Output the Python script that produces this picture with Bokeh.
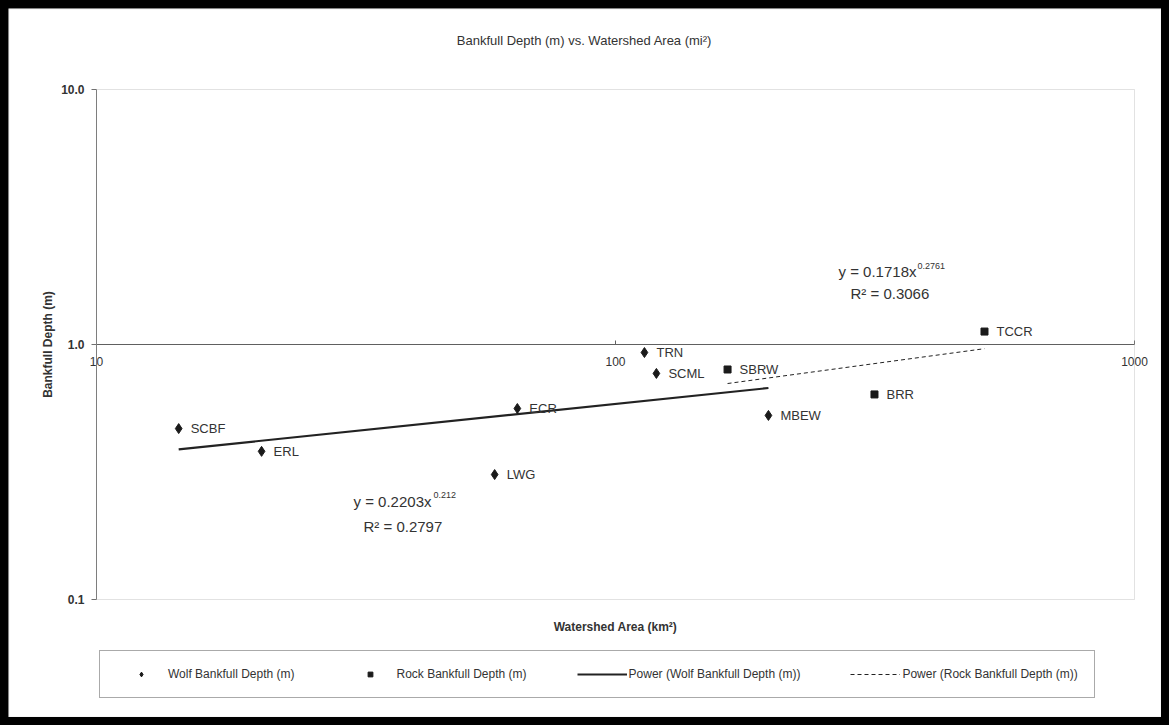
from bokeh.plotting import figure
from bokeh.models import (LogAxis, FixedTicker, PrintfTickFormatter, Legend,
                          LegendItem, Label, ColumnDataSource, BoxAnnotation)
from bokeh.core.properties import value
from bokeh.embed import file_html
from bokeh.resources import INLINE

# ---------------- data ----------------
wolf_sites = ["SCBF", "ERL", "LWG", "ECR", "TRN", "SCML", "MBEW"]
wolf_area = [14.4, 20.8, 58.5, 64.7, 113.7, 119.9, 197.1]
wolf_depth = [0.468, 0.381, 0.309, 0.561, 0.930, 0.770, 0.527]

rock_sites = ["SBRW", "BRR", "TCCR"]
rock_area = [164.4, 315.5, 514.0]
rock_depth = [0.798, 0.637, 1.124]

wolf_trend_area = [14.4, 197.1]
wolf_trend_depth = [0.388, 0.675]
rock_trend_area = [164.4, 514.0]
rock_trend_depth = [0.703, 0.963]

x_ticks = [10, 100, 1000]
y_ticks = [0.1, 1, 10]
x_bounds = (10, 1000)
y_bounds = (0.1, 10)

title_text = "Bankfull Depth (m) vs. Watershed Area (mi²)"
x_title = "Watershed Area (km²)"
y_title = "Bankfull Depth (m)"
legend_labels = ["Wolf Bankfull Depth (m)", "Rock Bankfull Depth (m)",
                 "Power (Wolf Bankfull Depth (m))", "Power (Rock Bankfull Depth (m))"]

FONT = "Liberation Sans"
TXT = "#333333"
MK = "#1a1a1a"

# ---------------- layout ----------------
W, H = 1153, 709
BOX_L, BOX_R, BOX_T, BOX_B = 88, 1126, 81, 591   # plot box in figure pixels
XDEC = (BOX_R - BOX_L) / 2.0                      # px per decade
YDEC = (BOX_B - BOX_T) / 2.0
x_lo = 10 ** (1 - BOX_L / XDEC)
x_hi = 10 ** (3 + (W - BOX_R) / XDEC)
y_hi = 10 ** (1 + BOX_T / YDEC)
y_lo = 10 ** (-1 - (H - BOX_B) / YDEC)

p = figure(width=W, height=H, x_axis_type="log", y_axis_type="log",
           x_range=(x_lo, x_hi), y_range=(y_lo, y_hi),
           x_axis_location=None, y_axis_location=None,
           output_backend="svg", toolbar_location=None, min_border=0,
           background_fill_color="white", border_fill_color="white")
p.grid.visible = False
p.outline_line_color = None

# light chart-area border
p.add_layout(BoxAnnotation(left=0.5, right=W - 0.5, bottom=0.5, top=H - 0.5,
                           left_units="screen", right_units="screen",
                           bottom_units="screen", top_units="screen",
                           fill_alpha=0, line_color="#c8c8c8", line_width=1))
# plot area box
p.add_layout(BoxAnnotation(left=x_bounds[0], right=x_bounds[1],
                           bottom=y_bounds[0], top=y_bounds[1],
                           fill_alpha=0, line_color="#a0a0a0", line_width=1))

# y axis at x = 10
ya = LogAxis(fixed_location=x_bounds[0], bounds=y_bounds,
             ticker=FixedTicker(ticks=y_ticks, minor_ticks=[]),
             formatter=PrintfTickFormatter(format="%.1f"),
             major_tick_out=5, major_tick_in=0, minor_tick_in=0, minor_tick_out=0,
             axis_line_color="#707070", major_tick_line_color="#707070",
             major_label_standoff=7, major_label_text_font=FONT,
             major_label_text_font_size="12px", major_label_text_font_style="bold",
             major_label_text_color=TXT,
             axis_label=y_title, axis_label_text_font=FONT,
             axis_label_text_font_size="12px", axis_label_text_font_style="bold",
             axis_label_text_color=TXT, axis_label_standoff=3)
p.add_layout(ya, "left")

# x axis crossing at y = 1
xa = LogAxis(fixed_location=1, bounds=x_bounds,
             ticker=FixedTicker(ticks=x_ticks, minor_ticks=[]),
             formatter=PrintfTickFormatter(format="%d"),
             major_tick_in=4, major_tick_out=0, minor_tick_in=0, minor_tick_out=0,
             major_label_standoff=12,
             axis_line_color="#606060", major_tick_line_color="#606060",
             major_label_text_font=FONT, major_label_text_font_size="12px",
             major_label_text_color=TXT)
p.add_layout(xa, "below")

# ---------------- glyphs ----------------
wsrc = ColumnDataSource(dict(x=wolf_area, y=wolf_depth, site=wolf_sites))
rsrc = ColumnDataSource(dict(x=rock_area, y=rock_depth, site=rock_sites))

r_wt = p.line(wolf_trend_area, wolf_trend_depth, line_color="#222222", line_width=2.2)
r_rt = p.line(rock_trend_area, rock_trend_depth, line_color="#222222", line_width=1,
              line_dash="4 3")
r_w = p.scatter("x", "y", source=wsrc, marker="diamond", size=10,
                fill_color=MK, line_color=MK)
r_r = p.scatter("x", "y", source=rsrc, marker="square", size=7,
                fill_color=MK, line_color=MK)

for src in (wsrc, rsrc):
    p.text("x", "y", text="site", source=src, x_offset=12, text_baseline="middle",
           text_font=value(FONT), text_font_size="13px", text_color=TXT)

# ---------------- annotations (screen px, origin at figure bottom-left) ----------------
def lab(x, y, text, size, **kw):
    p.add_layout(Label(x=x, y=y, x_units="screen", y_units="screen", text=text,
                       text_font=FONT, text_font_size=size, text_color=TXT,
                       text_baseline="middle", **kw))

lab(345, 216, "y = 0.2203x", "15px")
lab(425, 223, "0.212", "9px")
lab(355, 191, "R² = 0.2797", "15px")

lab(830, 446, "y = 0.1718x", "15px")
lab(909, 452, "0.2761", "9px")
lab(842, 424, "R² = 0.3066", "15px")

lab(576, 677, title_text, "13px", text_align="center")
lab(607, 91, x_title, "12px", text_align="center", text_font_style="bold")

# ---------------- legend ----------------
legend = Legend(items=[LegendItem(label=legend_labels[0], renderers=[r_w]),
                       LegendItem(label=legend_labels[1], renderers=[r_r]),
                       LegendItem(label=legend_labels[2], renderers=[r_wt]),
                       LegendItem(label=legend_labels[3], renderers=[r_rt])],
                orientation="horizontal", location=(91, 19),
                glyph_width=50, glyph_height=12, label_standoff=2, spacing=50,
                padding=16, margin=0,
                border_line_color="#555555", border_line_width=1,
                background_fill_color="white", background_fill_alpha=1,
                label_text_font=FONT, label_text_font_size="12px",
                label_text_color=TXT)
p.add_layout(legend, "center")

html = file_html(p, INLINE)
html = html.replace("</head>",
                    "<style>html{background:#000;}body{background:#000;margin:8px;}</style></head>", 1)
open("out.html", "w").write(html)
